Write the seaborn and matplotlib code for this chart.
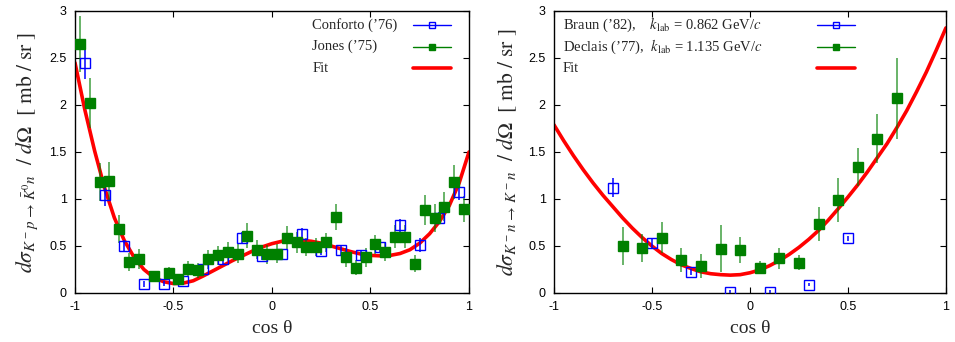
import numpy as np
import pandas as pd
import matplotlib
matplotlib.use('Agg')
import matplotlib.pyplot as plt
import seaborn as sns

# ─── data ────────────────────────────────────────────────────────────────────
# left panel: K- p -> K0bar n
conforto_x = [-0.95, -0.85, -0.75, -0.65, -0.55, -0.45, -0.35, -0.25, -0.15, -0.05,
              0.05, 0.15, 0.25, 0.35, 0.45, 0.55, 0.65, 0.75, 0.85, 0.95]
conforto_y = [2.45, 1.04, 0.50, 0.095, 0.10, 0.13, 0.26, 0.36, 0.59, 0.39,
              0.415, 0.63, 0.45, 0.456, 0.40, 0.49, 0.72, 0.51, 0.80, 1.07]
conforto_err = [0.17, 0.11, 0.06, 0.03, 0.03, 0.03, 0.04, 0.05, 0.06, 0.04,
                0.04, 0.06, 0.05, 0.05, 0.05, 0.05, 0.07, 0.07, 0.06, 0.08]

jones_x = [-0.975, -0.925, -0.875, -0.825, -0.775, -0.725, -0.675, -0.6, -0.525, -0.475,
           -0.425, -0.375, -0.325, -0.275, -0.225, -0.175, -0.125, -0.075, -0.025, 0.025,
           0.075, 0.125, 0.175, 0.225, 0.275, 0.325, 0.375, 0.425, 0.475, 0.525,
           0.575, 0.625, 0.675, 0.725, 0.775, 0.825, 0.875, 0.925, 0.975]
jones_y = [2.65, 2.02, 1.18, 1.19, 0.68, 0.33, 0.36, 0.18, 0.21, 0.145,
           0.26, 0.24, 0.36, 0.40, 0.44, 0.42, 0.61, 0.46, 0.41, 0.42,
           0.59, 0.54, 0.49, 0.49, 0.54, 0.81, 0.38, 0.27, 0.38, 0.52,
           0.44, 0.60, 0.60, 0.31, 0.88, 0.80, 0.92, 1.18, 0.89]
jones_err = [0.30, 0.27, 0.20, 0.20, 0.15, 0.10, 0.11, 0.05, 0.07, 0.05,
             0.08, 0.08, 0.10, 0.10, 0.10, 0.10, 0.13, 0.10, 0.10, 0.10,
             0.12, 0.11, 0.10, 0.10, 0.10, 0.14, 0.10, 0.08, 0.10, 0.10,
             0.10, 0.12, 0.12, 0.09, 0.16, 0.15, 0.15, 0.18, 0.14]

fit_x = [round(v, 2) for v in np.arange(-1.0, 1.001, 0.05)]
fit_left_y = [2.45, 1.95, 1.51, 1.12, 0.80, 0.56, 0.38, 0.25, 0.165, 0.12,
              0.10, 0.105, 0.13, 0.18, 0.235, 0.29, 0.345, 0.395, 0.445, 0.49,
              0.525, 0.55, 0.56, 0.56, 0.55, 0.53, 0.50, 0.47, 0.44, 0.415,
              0.40, 0.395, 0.40, 0.42, 0.46, 0.53, 0.63, 0.76, 0.93, 1.17, 1.50]

# right panel: K- n -> K- n
braun_x = [-0.7, -0.5, -0.3, -0.1, 0.1, 0.3, 0.5]
braun_y = [1.12, 0.53, 0.22, 0.01, 0.01, 0.09, 0.58]
braun_err = [0.10, 0.06, 0.03, 0.02, 0.02, 0.02, 0.03]

declais_x = [-0.65, -0.55, -0.45, -0.35, -0.25, -0.15, -0.05, 0.05, 0.15, 0.25,
             0.35, 0.45, 0.55, 0.65, 0.75]
declais_y = [0.50, 0.48, 0.59, 0.35, 0.29, 0.47, 0.46, 0.27, 0.37, 0.32,
             0.73, 0.99, 1.34, 1.64, 2.07]
declais_err = [0.20, 0.15, 0.16, 0.13, 0.13, 0.25, 0.14, 0.07, 0.11, 0.08,
               0.18, 0.23, 0.20, 0.26, 0.43]

fit_right_y = [1.79, 1.62, 1.46, 1.31, 1.17, 1.04, 0.92, 0.80, 0.69, 0.59,
               0.50, 0.42, 0.355, 0.30, 0.26, 0.225, 0.205, 0.195, 0.19, 0.195,
               0.215, 0.245, 0.29, 0.345, 0.41, 0.485, 0.57, 0.665, 0.775, 0.895,
               1.02, 1.15, 1.29, 1.44, 1.59, 1.76, 1.94, 2.14, 2.35, 2.58, 2.82]

tick_vals_x = [-1, -0.5, 0, 0.5, 1]
tick_text_x = ['-1', '-0.5', '0', '0.5', '1']
tick_vals_y = [0, 0.5, 1, 1.5, 2, 2.5, 3]
tick_text_y = ['0', '0.5', '1', '1.5', '2', '2.5', '3']

left_labels = ['Conforto (’76)', 'Jones (’75)', 'Fit']
right_labels = [r'Braun (’82),    $k_{\mathrm{lab}}$ = 0.862 GeV/$c$',
                r'Declais (’77),  $k_{\mathrm{lab}}$ = 1.135 GeV/$c$',
                'Fit']

BLUE = '#0000ff'
GREEN = '#008000'
RED = '#ff0000'
SERIF = ['Liberation Serif', 'DejaVu Serif']

sns.set_theme(style='ticks')
plt.rcParams['font.family'] = ['Liberation Sans', 'DejaVu Sans']
plt.rcParams['mathtext.fontset'] = 'stix'
plt.rcParams['axes.unicode_minus'] = False

fig = plt.figure(figsize=(9.55, 3.42), dpi=100)
ax1 = fig.add_axes([0.0785, 0.1433, 0.4126, 0.8246])
ax2 = fig.add_axes([0.580, 0.1433, 0.4105, 0.8246])


def style_axes(ax, ylabel):
    ax.set_xlim(-1, 1)
    ax.set_ylim(0, 3)
    ax.set_xticks(tick_vals_x)
    ax.set_xticklabels(tick_text_x)
    ax.set_yticks(tick_vals_y)
    ax.set_yticklabels(tick_text_y)
    ax.tick_params(direction='in', top=True, right=True, length=4, width=0.8,
                   labelsize=9, colors='black', pad=6)
    for sp in ax.spines.values():
        sp.set_linewidth(1.0)
        sp.set_color('black')
    ax.set_xlabel('cos θ', family=SERIF, fontsize=14, labelpad=5)
    ax.set_ylabel(ylabel, fontsize=15.5, labelpad=7)


def draw_data(ax, x, y, err, color, filled):
    ax.errorbar(x, y, yerr=err, fmt='none', ecolor=color, elinewidth=1.1,
                alpha=0.75 if filled else 1.0, zorder=3)
    ax.plot(x, y, linestyle='none', marker='s', ms=6.5,
            mfc=color if filled else 'none', mec=color, mew=1.0, zorder=4)


def draw_key(ax, labels, text_x, handle_x0, handle_x1):
    # gnuplot-style key: text left-aligned, sample line on the right
    rows_y = [0.950, 0.874, 0.797]
    styles = [dict(color=BLUE, lw=1, marker='s', ms=5, mfc='none', mec=BLUE),
              dict(color=GREEN, lw=1, marker='s', ms=5, mfc=GREEN, mec=GREEN),
              dict(color=RED, lw=2.6)]
    for lab, yy, st in zip(labels, rows_y, styles):
        ax.text(text_x, yy, lab, transform=ax.transAxes, ha='left', va='center',
                family=SERIF, fontsize=10.5)
        if 'marker' in st:
            st = dict(st, markevery=[1])
            ax.plot([handle_x0, (handle_x0 + handle_x1) / 2, handle_x1], [yy, yy, yy],
                    transform=ax.transAxes, clip_on=False, **st)
        else:
            ax.plot([handle_x0, handle_x1], [yy, yy], transform=ax.transAxes,
                    clip_on=False, **st)


# ─── left panel ──────────────────────────────────────────────────────────────
df_fit_l = pd.DataFrame({'x': fit_x, 'y': fit_left_y})
sns.lineplot(data=df_fit_l, x='x', y='y', color=RED, linewidth=2.6, ax=ax1, zorder=2)
draw_data(ax1, conforto_x, conforto_y, conforto_err, BLUE, False)
draw_data(ax1, jones_x, jones_y, jones_err, GREEN, True)
style_axes(ax1, r'$d\sigma_{K^-p\,\rightarrow\,\bar{K}^0n}\ \ /\ d\Omega\ \ [\ \mathrm{mb}\ /\ \mathrm{sr}\ ]$')
draw_key(ax1, left_labels, 0.602, 0.859, 0.954)

# ─── right panel ─────────────────────────────────────────────────────────────
df_fit_r = pd.DataFrame({'x': fit_x, 'y': fit_right_y})
sns.lineplot(data=df_fit_r, x='x', y='y', color=RED, linewidth=2.6, ax=ax2, zorder=2)
draw_data(ax2, braun_x, braun_y, braun_err, BLUE, False)
draw_data(ax2, declais_x, declais_y, declais_err, GREEN, True)
style_axes(ax2, r'$d\sigma_{K^-n\,\rightarrow\,K^-n}\ \ /\ d\Omega\ \ [\ \mathrm{mb}\ /\ \mathrm{sr}\ ]$')
draw_key(ax2, right_labels, 0.022, 0.67, 0.767)

fig.savefig('out.png', dpi=100)
